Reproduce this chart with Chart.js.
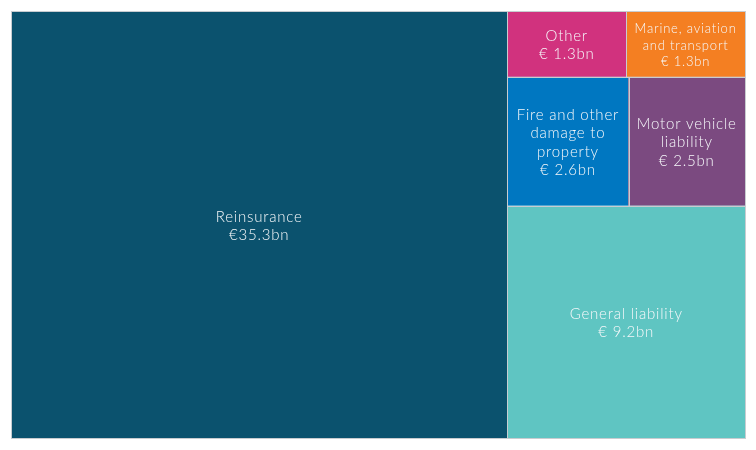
<!DOCTYPE html>
<html>
<head>
<meta charset="utf-8">
<script src="https://cdn.jsdelivr.net/npm/chart.js@4"></script>
<style>
    body { margin: 0; background: #ffffff; }
    #wrap { width: 756px; height: 450px; }
</style>
</head>
<body>
<div id="wrap"><canvas id="treemapChart"></canvas></div>
<script>
// Gross written premiums by line of business (€ bn)
const categories = ['Reinsurance', 'General liability', 'Fire and other damage to property',
    'Motor vehicle liability', 'Other', 'Marine, aviation and transport'];
const premiums = [35.3, 9.2, 2.6, 2.5, 1.3, 1.3];
const valueLabels = ['€35.3bn', '€ 9.2bn', '€ 2.6bn', '€ 2.5bn', '€ 1.3bn', '€ 1.3bn'];
const colors = ['#0b526e', '#5fc5c2', '#0077c1', '#7b4a80', '#d1327e', '#f47f22'];

const FONT = 'Lato, "Noto Sans", sans-serif';

// worst aspect ratio of a strip laid along `side`
function worstRatio(vals, side, k) {
    const sum = vals.reduce((a, b) => a + b, 0);
    const t = sum * k / side;
    let worst = 0;
    vals.forEach(v => {
        const len = v * k / t;
        worst = Math.max(worst, t / len, len / t);
    });
    return worst;
}

function growStrip(vals, side, k) {
    let n = 1;
    let worst = worstRatio(vals.slice(0, 1), side, k);
    while (n < vals.length) {
        const next = worstRatio(vals.slice(0, n + 1), side, k);
        if (next > worst) break;
        worst = next;
        n++;
    }
    return { n, worst };
}

// squarified layout in pixel units, y pointing up, strips start at the bottom-left corner
function squarify(values, W, H) {
    const cells = [];
    let rect = { x: 0, y: 0, w: W, h: H };
    let idx = 0;
    while (idx < values.length) {
        const rest = values.slice(idx);
        const total = rest.reduce((a, b) => a + b, 0);
        const k = rect.w * rect.h / total;
        const col = growStrip(rest, rect.h, k);
        const row = growStrip(rest, rect.w, k);
        const useCol = col.worst <= row.worst;
        const n = useCol ? col.n : row.n;
        const strip = rest.slice(0, n);
        const sum = strip.reduce((a, b) => a + b, 0);
        if (useCol) {
            const t = sum * k / rect.h;
            let top = rect.y + rect.h;
            strip.forEach(v => {
                const len = v * k / t;
                cells.push({ x: rect.x, y: top - len, w: t, h: len });
                top -= len;
            });
            rect = { x: rect.x + t, y: rect.y, w: rect.w - t, h: rect.h };
        } else {
            const t = sum * k / rect.w;
            let left = rect.x;
            strip.forEach(v => {
                const len = v * k / t;
                cells.push({ x: left, y: rect.y, w: len, h: t });
                left += len;
            });
            rect = { x: rect.x, y: rect.y + t, w: rect.w, h: rect.h - t };
        }
        idx += n;
    }
    return cells;
}

function wrapText(ctx, text, maxWidth) {
    const words = text.split(' ');
    const lines = [];
    let line = '';
    words.forEach(word => {
        const test = line ? line + ' ' + word : word;
        if (line && ctx.measureText(test).width > maxWidth) {
            lines.push(line);
            line = word;
        } else {
            line = test;
        }
    });
    if (line) lines.push(line);
    return lines;
}

const treemapPlugin = {
    id: 'treemapCells',
    afterDatasetsDraw(chart) {
        const { ctx, chartArea, scales } = chart;
        const W = chartArea.right - chartArea.left;
        const H = chartArea.bottom - chartArea.top;
        const cells = squarify(premiums, W, H);

        ctx.save();
        cells.forEach((c, i) => {
            const x0 = scales.x.getPixelForValue(c.x / W);
            const x1 = scales.x.getPixelForValue((c.x + c.w) / W);
            const y0 = scales.y.getPixelForValue((c.y + c.h) / H);
            const y1 = scales.y.getPixelForValue(c.y / H);
            ctx.fillStyle = colors[i];
            ctx.fillRect(x0, y0, x1 - x0, y1 - y0);
            ctx.strokeStyle = '#c8ccd0';
            ctx.lineWidth = 1;
            ctx.strokeRect(Math.round(x0) + 0.5, Math.round(y0) + 0.5,
                Math.round(x1 - x0), Math.round(y1 - y0));

            // labels: shrink until the wrapped text fits the cell
            let size = 15;
            let lines, lh;
            while (true) {
                ctx.font = `300 ${size}px ${FONT}`;
                ctx.letterSpacing = '0.8px';
                lines = wrapText(ctx, categories[i], (x1 - x0) - 12);
                lines.push(valueLabels[i]);
                lh = size * 1.24;
                if (lines.length * lh <= (y1 - y0) - 12 || size <= 9) break;
                size--;
            }
            ctx.fillStyle = '#f6f8fa';
            ctx.textAlign = 'center';
            ctx.textBaseline = 'middle';
            const cx = (x0 + x1) / 2;
            const cy = (y0 + y1) / 2 + 1.5;
            lines.forEach((ln, j) => {
                ctx.fillText(ln, cx, cy + (j - (lines.length - 1) / 2) * lh);
            });
        });
        ctx.restore();
    }
};

new Chart(document.getElementById('treemapChart').getContext('2d'), {
    type: 'scatter',
    data: { datasets: [{ data: [] }] },
    options: {
        responsive: true,
        maintainAspectRatio: false,
        animation: false,
        layout: { padding: { left: 11, top: 11, right: 11, bottom: 12 } },
        plugins: {
            legend: { display: false },
            tooltip: { enabled: false }
        },
        scales: {
            x: { type: 'linear', min: 0, max: 1, display: false },
            y: { type: 'linear', min: 0, max: 1, display: false }
        }
    },
    plugins: [treemapPlugin]
});
</script>
</body>
</html>
